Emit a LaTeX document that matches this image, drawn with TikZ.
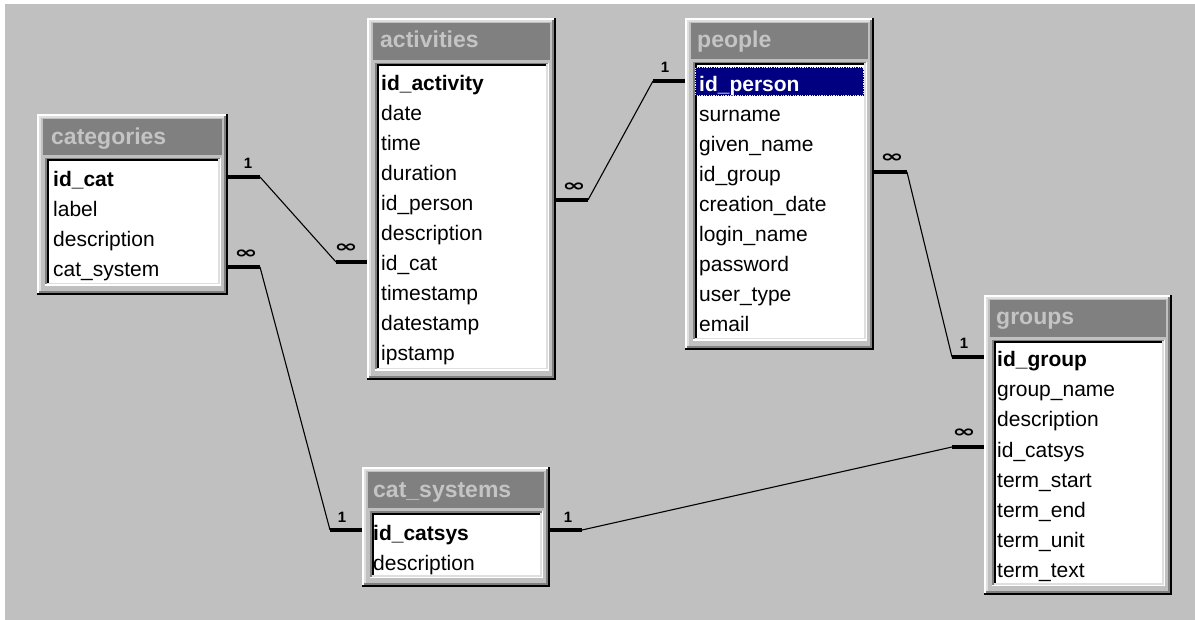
\documentclass[tikz,border=0pt]{standalone}
\usepackage{fontspec}
\setmainfont{Liberation Sans}
\newfontfamily\djv{DejaVu Sans}
\definecolor{winbg}{HTML}{C0C0C0}
\definecolor{winhdr}{HTML}{808080}
\definecolor{winlt}{HTML}{DFDFDF}
\definecolor{winnavy}{HTML}{000080}
\definecolor{winfocus}{HTML}{FFFF60}
\definecolor{hdrtext}{HTML}{C4C4C4}
\tikzset{
  rowtxt/.style={anchor=base west, inner sep=0pt, font=\fontsize{21}{21}\selectfont},
  keytxt/.style={anchor=base west, inner sep=0pt, font=\fontsize{21}{21}\selectfont\bfseries},
  hdrtxt/.style={anchor=base west, inner sep=0pt, text=hdrtext, font=\fontsize{23}{23}\selectfont\bfseries},
  stubline/.style={line width=4.5pt, line cap=butt},
  relline/.style={line width=1.1pt},
  onelbl/.style={inner sep=0pt, font=\fontsize{15}{15}\selectfont\bfseries},
  manylbl/.style={inner sep=0pt, font=\fontsize{17}{17}\selectfont\djv\bfseries},
}
\newcommand\ertbl[5]{%
  \fill[black] (#1,#2) rectangle (#3,#4);
  \fill[white] (#1,#2) rectangle ({#3-2},{#4-2});
  \fill[winhdr] ({#1+2},{#2+2}) rectangle ({#3-2},{#4-2});
  \fill[winlt] ({#1+2},{#2+2}) rectangle ({#3-4},{#4-4});
  \fill[winbg] ({#1+4},{#2+4}) rectangle ({#3-4},{#4-4});
  \fill[winhdr] ({#1+6},{#2+5}) rectangle ({#3-6},#5);
  \fill[white] ({#1+8},{#5+3}) rectangle ({#3-7},{#4-9});
  \fill[winhdr] ({#1+8},{#5+3}) rectangle ({#3-8.5},{#4-10.5});
  \fill[winlt] ({#1+9.5},{#5+4.5}) rectangle ({#3-8.5},{#4-10.5});
  \fill[black] ({#1+9.5},{#5+4.5}) rectangle ({#3-10},{#4-12});
  \fill[white] ({#1+11.5},{#5+6.5}) rectangle ({#3-10},{#4-12});
}
\newcommand\infsym{\scalebox{1.65}[1]{∞}}
\begin{document}
\begin{tikzpicture}[x=1pt,y=-1pt]
\useasboundingbox (0,0) rectangle (1195,620);
\fill[white] (0,0) rectangle (1195,620);
\fill[winbg] (5,4) rectangle (1195,620);

% ---------- tables ----------
\ertbl{37}{114}{228}{295}{155}
\ertbl{367}{18}{556}{380}{60}
\ertbl{685}{18}{874}{350}{59}
\ertbl{984}{295}{1172}{595}{337}
\ertbl{362}{467}{550}{587}{508}

% categories
\node[hdrtxt] (cat-h) at (51,145) {categories};
\node[keytxt] (cat-idcat) at (53,187) {id\_cat};
\node[rowtxt] (cat-label) at (53,217) {label};
\node[rowtxt] (cat-desc) at (53,247) {description};
\node[rowtxt] (cat-sys) at (53,277) {cat\_system};

% activities
\node[hdrtxt] (act-h) at (380,48) {activities};
\node[keytxt] (act-id) at (381,91) {id\_activity};
\node[rowtxt] (act-date) at (381,121) {date};
\node[rowtxt] (act-time) at (381,151) {time};
\node[rowtxt] (act-dur) at (381,181) {duration};
\node[rowtxt] (act-person) at (381,211) {id\_person};
\node[rowtxt] (act-desc) at (381,241) {description};
\node[rowtxt] (act-cat) at (381,271) {id\_cat};
\node[rowtxt] (act-ts) at (381,301) {timestamp};
\node[rowtxt] (act-ds) at (381,331) {datestamp};
\node[rowtxt] (act-ip) at (381,361) {ipstamp};

% people
\node[hdrtxt] (ppl-h) at (697,48) {people};
\fill[winnavy] (695,67) rectangle (864,96);
\draw[black, line width=1.2pt] (695.6,67.6) rectangle (863.4,95.4);
\draw[winfocus, line width=1.2pt, dash pattern=on 1.2pt off 1.2pt] (695.6,67.6) rectangle (863.4,95.4);
\node[keytxt, text=white] (ppl-id) at (699,92) {id\_person};
\node[rowtxt] (ppl-sur) at (699,122) {surname};
\node[rowtxt] (ppl-given) at (699,152) {given\_name};
\node[rowtxt] (ppl-grp) at (699,182) {id\_group};
\node[rowtxt] (ppl-cd) at (699,212) {creation\_date};
\node[rowtxt] (ppl-login) at (699,242) {login\_name};
\node[rowtxt] (ppl-pw) at (699,272) {password};
\node[rowtxt] (ppl-ut) at (699,302) {user\_type};
\node[rowtxt] (ppl-mail) at (699,332) {email};

% groups
\node[hdrtxt] (grp-h) at (996,325) {groups};
\node[keytxt] (grp-id) at (997,367) {id\_group};
\node[rowtxt] (grp-name) at (997,397) {group\_name};
\node[rowtxt] (grp-desc) at (997,427) {description};
\node[rowtxt] (grp-cs) at (997,457) {id\_catsys};
\node[rowtxt] (grp-ts) at (997,487) {term\_start};
\node[rowtxt] (grp-te) at (997,517) {term\_end};
\node[rowtxt] (grp-tu) at (997,547) {term\_unit};
\node[rowtxt] (grp-tt) at (997,577) {term\_text};

% cat_systems
\node[hdrtxt] (cs-h) at (373,497) {cat\_systems};
\node[keytxt] (cs-id) at (373,540) {id\_catsys};
\node[rowtxt] (cs-desc) at (373,570) {description};

% ---------- relationship stubs ----------
\coordinate (catA) at (228,177);  \coordinate (catAe) at (260,177);
\coordinate (catB) at (228,267);  \coordinate (catBe) at (260,267);
\coordinate (actC) at (367,262);  \coordinate (actCe) at (336,262);
\coordinate (actP) at (556,200);  \coordinate (actPe) at (588,200);
\coordinate (pplI) at (685,81);   \coordinate (pplIe) at (653,81);
\coordinate (pplG) at (874,172);  \coordinate (pplGe) at (907,172);
\coordinate (grpI) at (984,357);  \coordinate (grpIe) at (952,357);
\coordinate (grpC) at (984,447);  \coordinate (grpCe) at (952,447);
\coordinate (csL) at (362,530);   \coordinate (csLe) at (330,530);
\coordinate (csR) at (550,530);   \coordinate (csRe) at (582,530);

\foreach \a/\b in {catA/catAe, catB/catBe, actC/actCe, actP/actPe, pplI/pplIe,
                   pplG/pplGe, grpI/grpIe, grpC/grpCe, csL/csLe, csR/csRe}
  \draw[stubline] (\a) -- (\b);

\draw[relline] (catAe) -- (actCe);
\draw[relline] (catBe) -- (csLe);
\draw[relline] (actPe) -- (pplIe);
\draw[relline] (pplGe) -- (grpIe);
\draw[relline] (csRe) -- (grpCe);

% ---------- cardinality labels ----------
\node[onelbl] (l1) at (248,163) {1};
\node[manylbl] (l2) at (246,254) {\infsym};
\node[manylbl] (l3) at (346,248) {\infsym};
\node[manylbl] (l4) at (574,187) {\infsym};
\node[onelbl] (l5) at (665,67) {1};
\node[manylbl] (l6) at (892,158) {\infsym};
\node[onelbl] (l7) at (964,343) {1};
\node[manylbl] (l8) at (964,433) {\infsym};
\node[onelbl] (l9) at (342,517) {1};
\node[onelbl] (l10) at (568,517) {1};
\end{tikzpicture}
\end{document}
